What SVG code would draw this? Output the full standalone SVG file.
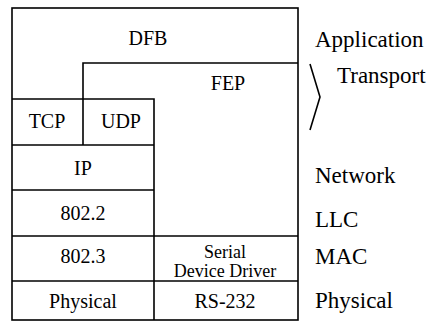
<svg xmlns="http://www.w3.org/2000/svg" width="441" height="325" viewBox="0 0 441 325">
<style>
.ln{stroke:#000;stroke-width:1.6;fill:none}
.t{font-size:20px;fill:#000;text-anchor:middle}
.s{font-size:18px;fill:#000;text-anchor:middle}
.r{font-size:23px;fill:#000}
</style>
<rect width="441" height="325" fill="#fff"/>
<g id="connectors">
<rect class="ln" x="12" y="8" width="286" height="312"/>
<path class="ln" d="M83 145V63H298"/>
<path class="ln" d="M12 99H154V320"/>
<path class="ln" d="M12 145H154"/>
<path class="ln" d="M12 190H154"/>
<path class="ln" d="M12 236H298"/>
<path class="ln" d="M12 281H298"/>
<path class="ln" d="M310 64L320 97L310 130"/>
</g>
<g font-family="Liberation Serif, DejaVu Serif, serif">
<g id="dfb"><text class="t" x="148" y="45">DFB</text></g>
<g id="fep"><text class="t" x="228" y="90">FEP</text></g>
<g id="tcp"><text class="t" x="47" y="128">TCP</text></g>
<g id="udp"><text class="t" x="121" y="128">UDP</text></g>
<g id="ip"><text class="t" x="83" y="175">IP</text></g>
<g id="llc8022"><text class="t" x="83" y="220">802.2</text></g>
<g id="mac8023"><text class="t" x="83" y="263">802.3</text></g>
<g id="serial"><text class="s" x="225" y="258">Serial</text><text class="s" x="225" y="277">Device Driver</text></g>
<g id="phys"><text class="t" x="83" y="308">Physical</text></g>
<g id="rs232"><text class="t" x="225" y="308">RS-232</text></g>
<g id="labels">
<text class="r" x="315" y="47">Application</text>
<text class="r" x="337" y="83">Transport</text>
<text class="r" x="315" y="183">Network</text>
<text class="r" x="315" y="227">LLC</text>
<text class="r" x="315" y="264">MAC</text>
<text class="r" x="315" y="308">Physical</text>
</g>
</g>
</svg>
